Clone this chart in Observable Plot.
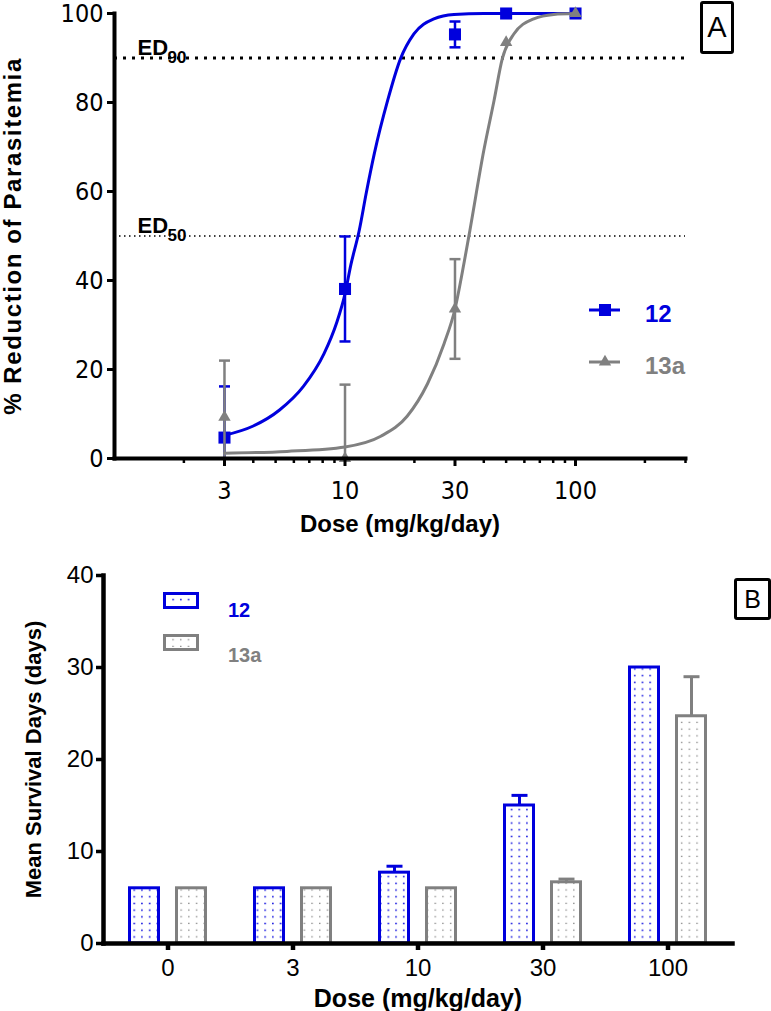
<!DOCTYPE html>
<html><head><meta charset="utf-8">
<script src="https://cdn.jsdelivr.net/npm/d3@7"></script>
<script src="https://cdn.jsdelivr.net/npm/@observablehq/plot@0.6"></script>
<style>
html,body{margin:0;padding:0;background:#fff;}
#wrap{position:relative;width:771px;height:1011px;overflow:hidden;background:#fff;}
#wrap > svg{display:block;position:absolute;left:0;}
.box{position:absolute;border:3.5px solid #000;border-radius:3px;box-sizing:border-box;display:flex;align-items:center;justify-content:center;font-family:"Liberation Sans",Arial,sans-serif;color:#000;background:#fff;line-height:1;}
</style></head><body><div id="wrap"></div>
<script>
// ---------- Panel A data ----------
const doses = [3, 10, 30, 50, 100];
const reduction12 = [4.7, 38.1, 95.3, 100, 100];
const sd12 = [11.5, 11.8, 2.9, 0, 0];
const reduction13a = [9.3, 0, 33.6, 93.5, 100];
const sd13a = [12.7, 16.6, 11.2, 0, 0];
// fitted curves
const fitDose12 = [3, 4, 5.2, 6.6, 8.1, 9.2, 10, 10.6, 11.5, 12.4, 13.4, 15.3, 17.4, 19.9, 24.3, 29.7, 40, 100];
const fitValue12 = [5.2, 7.3, 10.9, 16.2, 23.5, 30.5, 37, 43.5, 51, 60, 68.5, 80.4, 89.8, 95.4, 98.8, 99.8, 100, 100];
const fitDose13a = [3, 5.6, 10, 14.3, 18.6, 22.8, 26.9, 30, 32.8, 34.8, 40, 44.3, 48.1, 54, 65.9, 80.5, 100];
const fitValue13a = [1.2, 1.6, 2.6, 5.0, 9.5, 16.8, 25.8, 33.6, 43.8, 51.2, 69.2, 80.4, 89.8, 95.4, 98.8, 99.8, 100];
const edLevels = [50, 90];
const xMajorTicks = [3, 10, 30, 100];
const xMinorTicks = [2, 4, 5, 6, 7, 8, 9, 20, 40, 50, 60, 70, 80, 90, 200, 300];
const yTicksA = [0, 20, 40, 60, 80, 100];

// ---------- Panel B data ----------
const doseGroups = ["0", "3", "10", "30", "100"];
const survival12 = [6, 6, 7.7, 15.0, 30.0];
const sem12 = [0, 0, 0.7, 1.1, 0];
const survival13a = [6, 6, 6, 6.65, 24.7];
const sem13a = [0, 0, 0, 0.35, 4.3];
const yTicksB = [0, 10, 20, 30, 40];

const seriesNames = ["12", "13a"];
const seriesColors = ["#0000dd", "#808080"];

// ---------- tables ----------
const BLUE = seriesColors[0], GRAY = seriesColors[1];
const pointsA = doses.flatMap((d, i) => [
  {series: "12", dose: d, value: reduction12[i], sd: sd12[i]},
  {series: "13a", dose: d, value: reduction13a[i], sd: sd13a[i]}
]);
const fitA = [
  ...fitDose12.map((d, i) => ({series: "12", dose: d, value: fitValue12[i]})),
  ...fitDose13a.map((d, i) => ({series: "13a", dose: d, value: fitValue13a[i]}))
];
const barsB = doseGroups.flatMap((g, i) => [
  {series: "12", group: g, value: survival12[i], sem: sem12[i]},
  {series: "13a", group: g, value: survival13a[i], sem: sem13a[i]}
]);

const narrow = "'Liberation Sans Narrow','Arial Narrow','DejaVu Sans Condensed',sans-serif";
const sans = "'Liberation Sans',Arial,Helvetica,sans-serif";
const cap = {draw(ctx, size) { const r = Math.sqrt(size / Math.PI); ctx.moveTo(-r, 0); ctx.lineTo(r, 0); }};

function seriesMarksA(name, color, symbol, r) {
  const pts = pointsA.filter(d => d.series === name);
  const err = pts.filter(d => d.sd > 0);
  const fit = fitA.filter(d => d.series === name);
  return [
    Plot.ruleX(err, {x: "dose", y1: d => Math.max(0, d.value - d.sd), y2: d => d.value + d.sd, stroke: color, strokeWidth: 2.5}),
    Plot.dot(err, {x: "dose", y: d => d.value + d.sd, symbol: cap, r: 5.5, fill: "none", stroke: color, strokeWidth: 2.5}),
    Plot.dot(err.filter(d => d.value - d.sd >= 0), {x: "dose", y: d => d.value - d.sd, symbol: cap, r: 5.5, fill: "none", stroke: color, strokeWidth: 2.5}),
    Plot.line(fit, {x: "dose", y: "value", stroke: color, strokeWidth: 3, curve: "monotone-x"}),
    Plot.dot(pts, {x: "dose", y: "value", symbol, r, fill: color, stroke: "none"})
  ];
}

const plotA = Plot.plot({
  width: 771, height: 545,
  marginLeft: 114, marginRight: 86, marginTop: 13, marginBottom: 87,
  x: {type: "log", domain: [1, 300]},
  y: {domain: [0, 100]},
  style: {fontFamily: narrow, fontSize: "25px", color: "#000", background: "transparent"},
  marks: [
    Plot.ruleY([90], {stroke: "#000", strokeWidth: 3, strokeDasharray: "3,6"}),
    Plot.ruleY([50], {stroke: "#000", strokeWidth: 1.5, strokeDasharray: "1.5,3.5"}),
    Plot.text(edLevels, {y: d => d, text: () => "ED", frameAnchor: "left", dx: 23, dy: -10, textAnchor: "start", lineAnchor: "middle", fontFamily: sans, fontWeight: "bold", fontSize: 22}),
    Plot.text(edLevels, {y: d => d, text: d => String(d), frameAnchor: "left", dx: 53, dy: 0, textAnchor: "start", lineAnchor: "middle", fontFamily: sans, fontWeight: "bold", fontSize: 17}),
    ...seriesMarksA("12", BLUE, "square", 6.8),
    ...seriesMarksA("13a", GRAY, "triangle", 4.6),
    Plot.axisY({ticks: yTicksA, tickSize: 7, tickPadding: 4, strokeWidth: 3, label: null, tickFormat: d => d}),
    Plot.axisX({ticks: xMajorTicks, tickSize: 8, tickPadding: 15, strokeWidth: 3, label: null, tickFormat: d => d}),
    Plot.axisX({ticks: xMinorTicks, tickSize: 5, strokeWidth: 2.5, label: null, tickFormat: () => ""}),
    Plot.frame({anchor: "left", strokeWidth: 4}),
    Plot.frame({anchor: "bottom", strokeWidth: 4}),
    Plot.text(["% Reduction of Parasitemia"], {text: d => d, frameAnchor: "left", dx: -101, rotate: -90, textAnchor: "middle", lineAnchor: "middle", fontFamily: sans, fontWeight: "bold", fontSize: 24}),
    Plot.text(["Dose (mg/kg/day)"], {text: d => d, frameAnchor: "bottom", dy: 66, textAnchor: "middle", lineAnchor: "middle", fontFamily: sans, fontWeight: "bold", fontSize: 24})
  ]
});

function seriesMarksB(name, color, pattern, shift) {
  const rows = barsB.filter(d => d.series === name);
  const err = rows.filter(d => d.sem > 0);
  return [
    Plot.ruleX(err, {x: "group", y1: "value", y2: d => d.value + d.sem, dx: shift, stroke: color, strokeWidth: 3}),
    Plot.dot(err, {x: "group", y: d => d.value + d.sem, dx: shift, symbol: cap, r: 8, fill: "none", stroke: color, strokeWidth: 3}),
    Plot.barY(rows, {x: "group", y: "value", dx: shift, insetLeft: 48, insetRight: 48, fill: `url(#${pattern})`, stroke: color, strokeWidth: 3})
  ];
}

const plotB = Plot.plot({
  width: 771, height: 466,
  marginLeft: 103, marginRight: 39, marginTop: 30, marginBottom: 68,
  x: {domain: doseGroups, padding: 0},
  y: {domain: [0, 40]},
  style: {fontFamily: sans, fontSize: "24px", color: "#000", background: "transparent"},
  marks: [
    ...seriesMarksB("12", BLUE, "dotsBlue", -23.5),
    ...seriesMarksB("13a", GRAY, "dotsGray", 23.5),
    Plot.axisY({ticks: yTicksB, tickSize: 7, tickPadding: 3, strokeWidth: 3.5, label: null, tickFormat: d => d}),
    Plot.axisX({tickSize: 7, tickPadding: 8, strokeWidth: 4.5, label: null}),
    Plot.frame({anchor: "left", strokeWidth: 4.5}),
    Plot.frame({anchor: "bottom", strokeWidth: 4.5}),
    Plot.text(["Mean Survival Days (days)"], {text: d => d, frameAnchor: "left", dx: -70, rotate: -90, textAnchor: "middle", lineAnchor: "middle", fontFamily: sans, fontWeight: "bold", fontSize: 22}),
    Plot.text(["Dose (mg/kg/day)"], {text: d => d, frameAnchor: "bottom", dy: 55, textAnchor: "middle", lineAnchor: "middle", fontFamily: sans, fontWeight: "bold", fontSize: 25})
  ]
});

const wrap = document.getElementById("wrap");
plotA.style.top = "0px";
plotB.style.top = "545px";
wrap.appendChild(plotA);
wrap.appendChild(plotB);

// patterns for bars
const defs = d3.select(plotB).insert("defs", ":first-child");
[["dotsBlue", BLUE, 1.5], ["dotsGray", GRAY, 1.3]].forEach(([id, c, s]) => {
  const p = defs.append("pattern").attr("id", id).attr("patternUnits", "userSpaceOnUse").attr("width", 7.7).attr("height", 6.7);
  p.append("rect").attr("width", 7.7).attr("height", 6.7).attr("fill", "#fff");
  p.append("rect").attr("x", 3).attr("y", 2.6).attr("width", s).attr("height", s).attr("fill", c);
});

// letter spacing for wide y title
d3.select(plotA).selectAll("text").filter(function() { return this.textContent === "% Reduction of Parasitemia"; }).attr("letter-spacing", "1.6px");

// ---------- legends (overlay) ----------
const leg = d3.select(wrap).append("svg").attr("width", 771).attr("height", 1011).style("top", "0px").style("pointer-events", "none");
const legA = [{name: seriesNames[0], color: BLUE, sym: d3.symbolSquare, size: 145}, {name: seriesNames[1], color: GRAY, sym: d3.symbolTriangle, size: 66}];
legA.forEach((e, i) => {
  const cy = 310 + i * 52;
  leg.append("line").attr("x1", 589).attr("x2", 620).attr("y1", cy).attr("y2", cy).attr("stroke", e.color).attr("stroke-width", 3);
  leg.append("path").attr("d", d3.symbol(e.sym, e.size)()).attr("transform", `translate(605,${cy})`).attr("fill", e.color);
  leg.append("text").attr("x", 645).attr("y", cy + 4).attr("dy", "0.35em").attr("fill", e.color)
    .style("font", `bold 24px ${sans}`).text(e.name);
});
const legB = [{name: seriesNames[0], color: BLUE, pat: "dotsBlue"}, {name: seriesNames[1], color: GRAY, pat: "dotsGray"}];
legB.forEach((e, i) => {
  const ry = 593.5 + i * 42;
  leg.append("rect").attr("x", 164.5).attr("y", ry).attr("width", 33).attr("height", 14).attr("fill", "#fff").attr("stroke", e.color).attr("stroke-width", 3);
  leg.append("rect").attr("x", 167).attr("y", ry + 2.5).attr("width", 28).attr("height", 9).attr("fill", `url(#${e.pat})`);
  leg.append("text").attr("x", 228).attr("y", ry + 16 + i * 3).attr("dy", "0.35em").attr("fill", e.color)
    .style("font", `bold 20px ${sans}`).text(e.name);
});

// panel letters
function box(letter, left, top, w, h, fs) {
  const b = document.createElement("div");
  b.className = "box";
  Object.assign(b.style, {left: left + "px", top: top + "px", width: w + "px", height: h + "px", fontSize: fs + "px"});
  b.textContent = letter;
  wrap.appendChild(b);
}
box("A", 700, 1, 34, 53, 29);
box("B", 734, 578, 37, 42, 25);
</script></body></html>
